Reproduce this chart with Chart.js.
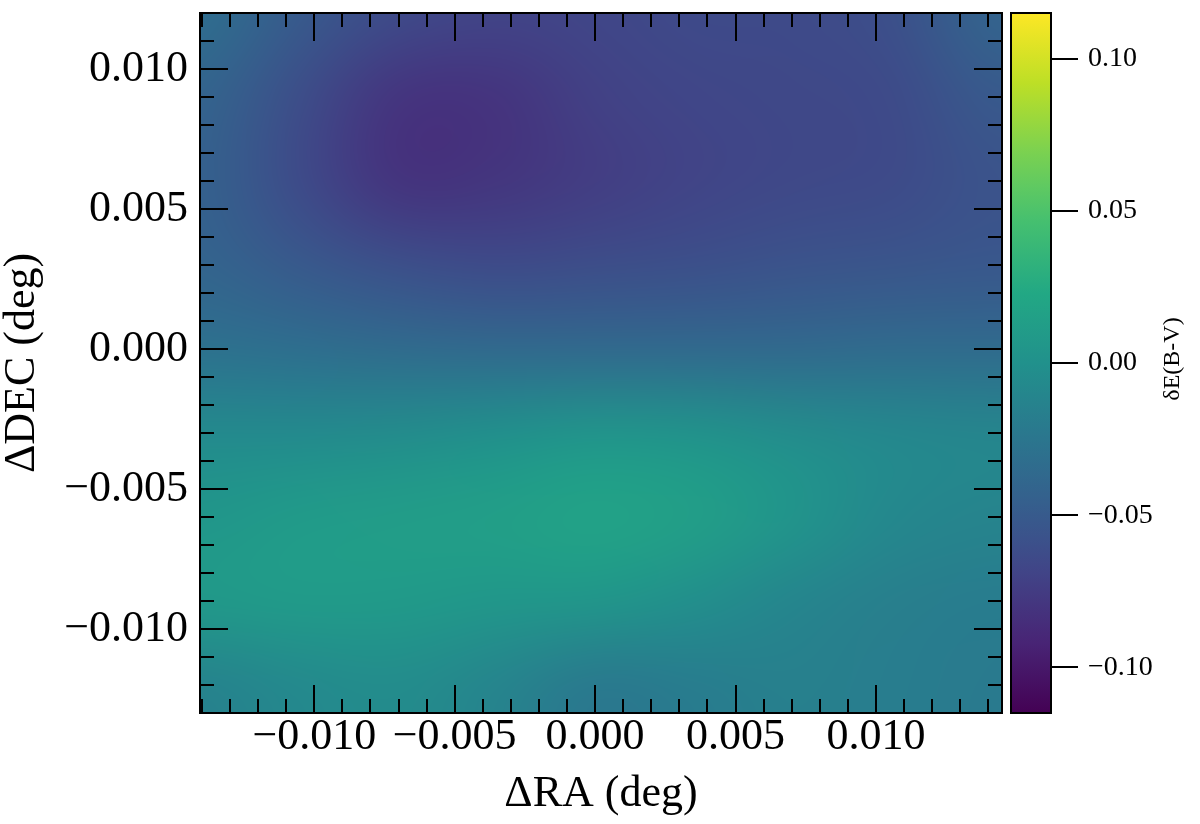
<!DOCTYPE html>
<html>
<head>
<meta charset="utf-8">
<script src="https://cdn.jsdelivr.net/npm/chart.js@4.4.0/dist/chart.umd.min.js"></script>
<style>
  html, body { margin: 0; padding: 0; background: #fff; }
  #wrap { position: relative; width: 1200px; height: 824px; }
  #map { position: absolute; left: 0; top: 0; }
  #cbar { position: absolute; left: 1000px; top: 0; }
</style>
</head>
<body>
<div id="wrap">
  <canvas id="map" width="1200" height="824"></canvas>
  <canvas id="cbar" width="200" height="824"></canvas>
</div>
<script>
const SERIF = "'Liberation Serif', 'DejaVu Serif', serif";

// grid nodes of the map (deg)
const raNodes = [-0.014, -0.0105, -0.007, -0.0035, 0, 0.0035, 0.007, 0.0105, 0.014];
const decNodes = [0.012, 0.009, 0.006, 0.003, 0, -0.003, -0.006, -0.009, -0.012];

// dE(B-V), one row per decNodes entry (top to bottom)
const dEBV = [
  [-0.032, -0.050, -0.064, -0.069, -0.067, -0.064, -0.064, -0.060, -0.041],
  [-0.041, -0.062, -0.081, -0.081, -0.071, -0.067, -0.066, -0.064, -0.051],
  [-0.044, -0.064, -0.082, -0.080, -0.074, -0.069, -0.066, -0.064, -0.057],
  [-0.041, -0.051, -0.060, -0.064, -0.062, -0.060, -0.057, -0.055, -0.053],
  [-0.029, -0.032, -0.035, -0.037, -0.037, -0.037, -0.037, -0.035, -0.035],
  [-0.006, -0.006, -0.005, -0.001, 0.004, 0.002, -0.004, -0.008, -0.010],
  [0.005, 0.010, 0.012, 0.014, 0.018, 0.014, 0.004, -0.008, -0.012],
  [0.008, 0.010, 0.009, 0.006, 0.005, -0.002, -0.011, -0.017, -0.019],
  [-0.014, -0.007, -0.005, -0.012, -0.023, -0.019, -0.016, -0.018, -0.021]
];

// axes
const raMin = -0.01407, raMax = 0.01449;
const decMin = -0.013, decMax = 0.012;
const raTicks = [-0.010, -0.005, 0.000, 0.005, 0.010];
const decTicks = [-0.010, -0.005, 0.000, 0.005, 0.010];
const cMin = -0.115, cMax = 0.115;
const cbTicks = [-0.10, -0.05, 0.00, 0.05, 0.10];

// viridis colour stops
const viridisStops = [
  [0.0, [68, 1, 84]], [0.1, [72, 36, 117]], [0.2, [65, 68, 135]], [0.25, [59, 82, 139]],
  [0.3, [53, 95, 141]], [0.4, [42, 120, 142]], [0.5, [33, 145, 140]], [0.6, [34, 168, 132]],
  [0.7, [68, 191, 112]], [0.75, [94, 201, 98]], [0.8, [122, 209, 81]], [0.9, [189, 223, 38]],
  [1.0, [253, 231, 37]]
];

function viridis(t) {
  t = Math.max(0, Math.min(1, t));
  for (let i = 1; i < viridisStops.length; i++) {
    const [t1, c1] = viridisStops[i];
    if (t <= t1) {
      const [t0, c0] = viridisStops[i - 1];
      const f = (t - t0) / (t1 - t0);
      return c0.map((v, k) => Math.round(v + (c1[k] - v) * f));
    }
  }
  return viridisStops[viridisStops.length - 1][1];
}

const fmt = (v, d) => (v < 0 ? '\u2212' : '') + Math.abs(v).toFixed(d);

// minor tick positions every 0.001
const minorStep = 0.001;
function minorTicks(lo, hi) {
  const out = [];
  for (let k = Math.ceil(lo / minorStep); k * minorStep <= hi + 1e-12; k++) out.push(k * minorStep);
  return out;
}

// keep the plot box exactly where the layout padding puts it
function noEdgePadding(s) {
  s.paddingTop = 0; s.paddingBottom = 0; s.paddingLeft = 0; s.paddingRight = 0;
}

const heatmapPlugin = {
  id: 'heatmap',
  beforeDatasetsDraw(chart) {
    const { ctx, chartArea: a, scales: { x, y } } = chart;
    const nx = raNodes.length, ny = decNodes.length;
    const img = document.createElement('canvas');
    img.width = nx;
    img.height = ny;
    const ictx = img.getContext('2d');
    const id = ictx.createImageData(nx, ny);
    for (let j = 0; j < ny; j++) {
      for (let i = 0; i < nx; i++) {
        const c = viridis((dEBV[j][i] - cMin) / (cMax - cMin));
        const k = (j * nx + i) * 4;
        id.data[k] = c[0]; id.data[k + 1] = c[1]; id.data[k + 2] = c[2]; id.data[k + 3] = 255;
      }
    }
    ictx.putImageData(id, 0, 0);
    const dx = raNodes[1] - raNodes[0];
    const dy = decNodes[0] - decNodes[1];
    const left = x.getPixelForValue(raNodes[0] - dx / 2);
    const right = x.getPixelForValue(raNodes[nx - 1] + dx / 2);
    const top = y.getPixelForValue(decNodes[0] + dy / 2);
    const bottom = y.getPixelForValue(decNodes[ny - 1] - dy / 2);
    ctx.save();
    ctx.beginPath();
    ctx.rect(a.left, a.top, a.width, a.height);
    ctx.clip();
    ctx.imageSmoothingEnabled = true;
    ctx.imageSmoothingQuality = 'high';
    ctx.drawImage(img, left, top, right - left, bottom - top);
    ctx.restore();
  }
};

// inward ticks on all four sides + frame
const frameTicks = {
  id: 'frameTicks',
  afterDraw(chart) {
    const { ctx, chartArea: a, scales: { x, y } } = chart;
    ctx.save();
    ctx.strokeStyle = '#000';
    ctx.lineWidth = 2;
    ctx.beginPath();
    const xs = [...minorTicks(raMin, raMax).map(v => [v, 14]), ...raTicks.map(v => [v, 28])];
    xs.forEach(([v, len]) => {
      const p = Math.round(x.getPixelForValue(v));
      ctx.moveTo(p, a.bottom); ctx.lineTo(p, a.bottom - len);
      ctx.moveTo(p, a.top); ctx.lineTo(p, a.top + len);
    });
    const ys = [...minorTicks(decMin, decMax).map(v => [v, 14]), ...decTicks.map(v => [v, 28])];
    ys.forEach(([v, len]) => {
      const p = Math.round(y.getPixelForValue(v));
      ctx.moveTo(a.left, p); ctx.lineTo(a.left + len, p);
      ctx.moveTo(a.right, p); ctx.lineTo(a.right - len, p);
    });
    ctx.stroke();
    ctx.strokeRect(a.left, a.top, a.width, a.height);
    ctx.restore();
  }
};

new Chart(document.getElementById('map'), {
  type: 'scatter',
  data: { datasets: [{ data: [], pointRadius: 0 }] },
  options: {
    responsive: false,
    animation: false,
    layout: { padding: { top: 13, right: 198, left: 0, bottom: 0 } },
    plugins: { legend: { display: false }, tooltip: { enabled: false } },
    scales: {
      x: {
        type: 'linear', min: raMin, max: raMax,
        grid: { display: false, drawTicks: false },
        border: { display: false },
        afterBuildTicks: s => { s.ticks = raTicks.map(v => ({ value: v })); },
        afterFit: s => { s.height = 111; noEdgePadding(s); },
        ticks: {
          font: { family: SERIF, size: 44, lineHeight: 1.1 }, color: '#000',
          padding: 0, maxRotation: 0, autoSkip: false,
          callback: v => fmt(v, 3)
        },
        title: {
          display: true, text: '\u0394RA (deg)', color: '#000',
          font: { family: SERIF, size: 44, lineHeight: 1 },
          padding: { top: 0, bottom: 8 }
        }
      },
      y: {
        type: 'linear', min: decMin, max: decMax,
        grid: { display: false, drawTicks: false },
        border: { display: false },
        afterBuildTicks: s => { s.ticks = decTicks.map(v => ({ value: v })); },
        afterFit: s => { s.width = 200; noEdgePadding(s); },
        ticks: {
          font: { family: SERIF, size: 44 }, color: '#000',
          padding: 12, autoSkip: false,
          callback: v => fmt(v, 3)
        },
        title: {
          display: true, text: '\u0394DEC (deg)', color: '#000',
          font: { family: SERIF, size: 44, lineHeight: 1 },
          padding: { top: 0, bottom: 0 }
        }
      }
    }
  },
  plugins: [heatmapPlugin, frameTicks]
});

// colour bar frame and its rotated label
const cbarFrame = {
  id: 'cbarFrame',
  afterDraw(chart) {
    const { ctx, chartArea: a } = chart;
    ctx.save();
    ctx.strokeStyle = '#000';
    ctx.lineWidth = 2;
    ctx.strokeRect(a.left, a.top, a.width, a.height);
    ctx.translate(a.right + 122, (a.top + a.bottom) / 2 - 4);
    ctx.rotate(-Math.PI / 2);
    ctx.fillStyle = '#000';
    ctx.font = '24px ' + SERIF;
    ctx.textAlign = 'center';
    ctx.textBaseline = 'middle';
    ctx.fillText('\u03b4E(B-V)', 0, 0);
    ctx.restore();
  }
};

new Chart(document.getElementById('cbar'), {
  type: 'bar',
  data: {
    labels: ['\u03b4E(B-V)'],
    datasets: [{
      data: [[cMin, cMax]],
      borderWidth: 0,
      barPercentage: 1,
      categoryPercentage: 1,
      backgroundColor: c => {
        const { ctx, chartArea, scales } = c.chart;
        if (!chartArea) return '#21918c';
        const y0 = scales.y.getPixelForValue(cMin);
        const y1 = scales.y.getPixelForValue(cMax);
        const g = ctx.createLinearGradient(0, y0, 0, y1);
        viridisStops.forEach(([t, col]) => g.addColorStop(t, 'rgb(' + col.join(',') + ')'));
        return g;
      }
    }]
  },
  options: {
    responsive: false,
    animation: false,
    layout: { padding: { left: 11, top: 13, bottom: 111, right: 0 } },
    plugins: { legend: { display: false }, tooltip: { enabled: false } },
    scales: {
      x: { display: false },
      y: {
        position: 'right', min: cMin, max: cMax,
        afterBuildTicks: s => { s.ticks = cbTicks.map(v => ({ value: v })); },
        afterFit: s => { s.width = 149; noEdgePadding(s); },
        grid: { drawOnChartArea: false, drawTicks: true, tickLength: 27, color: '#000', lineWidth: 2 },
        border: { display: false },
        ticks: {
          font: { family: SERIF, size: 28 }, color: '#000', padding: 10,
          callback: v => fmt(v, 2)
        }
      }
    }
  },
  plugins: [cbarFrame]
});
</script>
</body>
</html>
